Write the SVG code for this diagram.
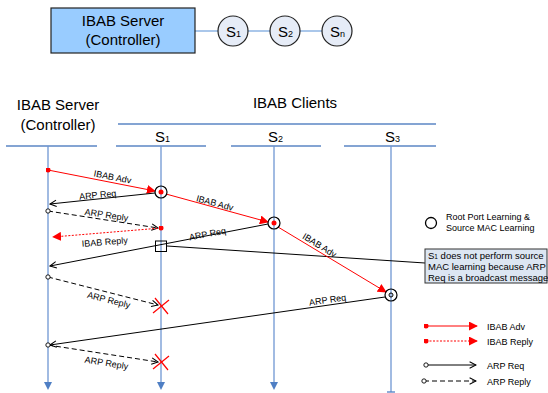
<svg xmlns="http://www.w3.org/2000/svg" width="548" height="393" viewBox="0 0 548 393">
<defs>
<style>
text{font-family:'Liberation Sans',Arial,sans-serif;fill:#000}
.big{font-size:15px}
.lbl{font-size:9px}
.note{font-size:9.5px}
.life{stroke:#6f97d3;stroke-width:1.3;fill:none}
.head{stroke:#5b86c4;stroke-width:1.3}
.adv{stroke:#f00;stroke-width:1;fill:none}
.rep{stroke:#f00;stroke-width:1;stroke-dasharray:2 1.5;fill:none}
.req{stroke:#000;stroke-width:1;fill:none}
.arep{stroke:#000;stroke-width:1;stroke-dasharray:5 3;fill:none}
.x{stroke:#f00;stroke-width:1.2}
</style>
<marker id="ra" viewBox="0 0 10 10" refX="9" refY="5" markerWidth="9" markerHeight="9" markerUnits="userSpaceOnUse" orient="auto"><path d="M0,0 L10,5 L0,10 z" fill="#f00"/></marker>
<marker id="rd" viewBox="0 0 10 10" refX="5" refY="5" markerWidth="5" markerHeight="5" markerUnits="userSpaceOnUse"><circle cx="5" cy="5" r="5" fill="#f00"/></marker>
<marker id="oa" viewBox="0 0 10 10" refX="9" refY="5" markerWidth="8" markerHeight="8" markerUnits="userSpaceOnUse" orient="auto"><path d="M1,1 L9,5 L1,9" fill="none" stroke="#000" stroke-width="1.3"/></marker>
<marker id="od" viewBox="0 0 10 10" refX="5" refY="5" markerWidth="6" markerHeight="6" markerUnits="userSpaceOnUse"><circle cx="5" cy="5" r="3.6" fill="#fff" stroke="#000" stroke-width="1.5"/></marker>
<marker id="ba" viewBox="0 0 10 10" refX="5" refY="5" markerWidth="8" markerHeight="8" markerUnits="userSpaceOnUse" orient="auto"><path d="M0,0 L10,5 L0,10 z" fill="#4f7fc4"/></marker>
</defs>

<g id="top">
<line x1="195" y1="31" x2="337" y2="31" stroke="#8eb4e3" stroke-width="1.3"/>
<rect x="51" y="8" width="144" height="45" fill="#99ccff" stroke="#222" stroke-width="1.2"/>
<text class="big" x="123" y="26" text-anchor="middle">IBAB Server</text>
<text class="big" x="123" y="45" text-anchor="middle">(Controller)</text>
<g id="top-s1"><circle cx="233" cy="31" r="15" fill="#e6ecf7" stroke="#222" stroke-width="1.2"/><text class="big" x="226" y="37">S<tspan font-size="9px">1</tspan></text></g>
<g id="top-s2"><circle cx="285" cy="31" r="15" fill="#e6ecf7" stroke="#222" stroke-width="1.2"/><text class="big" x="278" y="37">S<tspan font-size="9px">2</tspan></text></g>
<g id="top-sn"><circle cx="337" cy="31" r="15" fill="#e6ecf7" stroke="#222" stroke-width="1.2"/><text class="big" x="330" y="37">S<tspan font-size="9px">n</tspan></text></g>
</g>

<g id="headers">
<text class="big" x="58" y="110" text-anchor="middle">IBAB Server</text>
<text class="big" x="58" y="130" text-anchor="middle">(Controller)</text>
<text class="big" x="295" y="108" text-anchor="middle">IBAB Clients</text>
<line class="head" x1="118" y1="124" x2="436" y2="124"/>
<line class="head" x1="6" y1="146" x2="97" y2="146"/>
<line class="head" x1="116" y1="146" x2="206" y2="146"/>
<line class="head" x1="231" y1="146" x2="321" y2="146"/>
<line class="head" x1="344" y1="146" x2="436" y2="146"/>
<text class="big" x="155" y="142">S<tspan font-size="9px">1</tspan></text>
<text class="big" x="268" y="142">S<tspan font-size="9px">2</tspan></text>
<text class="big" x="385" y="142">S<tspan font-size="9px">3</tspan></text>
</g>

<g id="lifelines">
<line class="life" x1="48" y1="146" x2="48" y2="386" marker-end="url(#ba)"/>
<line class="life" x1="161" y1="146" x2="161" y2="386" marker-end="url(#ba)"/>
<line class="life" x1="274" y1="146" x2="274" y2="386" marker-end="url(#ba)"/>
<line class="life" x1="391" y1="146" x2="391" y2="392"/>
<line x1="387" y1="392" x2="395" y2="392" stroke="#4f7fc4" stroke-width="1.3"/>
</g>

<g id="connectors">
<line class="adv" x1="48" y1="170" x2="155" y2="191" marker-start="url(#rd)" marker-end="url(#ra)"/>
<line class="req" x1="155" y1="193" x2="50" y2="204" marker-end="url(#oa)"/>
<line class="arep" x1="48" y1="211" x2="158" y2="228" marker-start="url(#od)" marker-end="url(#oa)"/>
<line class="rep" x1="161" y1="228" x2="53" y2="237" marker-start="url(#rd)" marker-end="url(#ra)"/>
<line class="adv" x1="166" y1="194" x2="268" y2="222" marker-end="url(#ra)"/>
<line class="req" x1="268" y1="224" x2="50" y2="266" marker-end="url(#oa)"/>
<line class="req" x1="167" y1="246" x2="425" y2="263"/>
<line class="adv" x1="278" y1="227" x2="386" y2="292" marker-end="url(#ra)"/>
<line class="arep" x1="48" y1="277" x2="158" y2="305" marker-start="url(#od)" marker-end="url(#oa)"/>
<line class="req" x1="385" y1="297" x2="50" y2="345" marker-end="url(#oa)"/>
<line class="arep" x1="48" y1="345" x2="158" y2="362" marker-start="url(#od)" marker-end="url(#oa)"/>
</g>

<g id="marks">
<g id="learn-s1"><circle cx="161" cy="192" r="6" fill="none" stroke="#000" stroke-width="1.2"/><circle cx="161" cy="192" r="2.5" fill="#f00"/></g>
<g id="learn-s2"><circle cx="274" cy="223" r="6" fill="none" stroke="#000" stroke-width="1.2"/><circle cx="274" cy="223" r="2.5" fill="#f00"/></g>
<g id="learn-s3"><circle cx="391" cy="295" r="6" fill="none" stroke="#000" stroke-width="1.2"/><circle cx="391" cy="295" r="2" fill="none" stroke="#000" stroke-width="1"/></g>
<rect id="s1-nolearn" x="155.5" y="241" width="11" height="10.5" fill="none" stroke="#000" stroke-width="1"/>
<g id="drop1"><line class="x" x1="155" y1="298" x2="168" y2="314"/><line class="x" x1="153" y1="313" x2="169" y2="300"/></g>
<g id="drop2"><line class="x" x1="155" y1="354" x2="168" y2="370"/><line class="x" x1="153" y1="369" x2="169" y2="356"/></g>
</g>

<g id="labels">
<text class="lbl" text-anchor="middle" transform="translate(112,180) rotate(11)">IBAB Adv</text>
<text class="lbl" text-anchor="middle" transform="translate(98,198) rotate(-5.6)">ARP Req</text>
<text class="lbl" text-anchor="middle" transform="translate(106,218) rotate(8.6)">ARP Reply</text>
<text class="lbl" text-anchor="middle" transform="translate(105,245) rotate(-4.6)">IBAB Reply</text>
<text class="lbl" text-anchor="middle" transform="translate(214,206) rotate(15.3)">IBAB Adv</text>
<text class="lbl" text-anchor="middle" transform="translate(208,237) rotate(-10.8)">ARP Req</text>
<text class="lbl" text-anchor="middle" transform="translate(318,248) rotate(31.6)">IBAB Adv</text>
<text class="lbl" text-anchor="middle" transform="translate(108,303) rotate(14.3)">ARP Reply</text>
<text class="lbl" text-anchor="middle" transform="translate(328,303) rotate(-8.1)">ARP Req</text>
<text class="lbl" text-anchor="middle" transform="translate(106,366) rotate(9.3)">ARP Reply</text>
</g>

<g id="note">
<rect x="425" y="249" width="122" height="34" fill="#dce6f2" stroke="#333" stroke-width="1"/>
<text class="note" x="428" y="259">S<tspan font-size="6.5px">1</tspan> does not perform source</text>
<text class="note" x="428" y="270">MAC learning because ARP</text>
<text class="note" x="428" y="281">Req is a broadcast message</text>
</g>

<g id="legend">
<circle cx="431" cy="223" r="5.5" fill="none" stroke="#000" stroke-width="1.3"/>
<text class="lbl" x="446" y="220">Root Port Learning &amp;</text>
<text class="lbl" x="446" y="231">Source MAC Learning</text>
<line class="adv" x1="426" y1="326" x2="477" y2="326" marker-start="url(#rd)" marker-end="url(#ra)"/>
<text class="lbl" x="487" y="330">IBAB Adv</text>
<line class="rep" x1="426" y1="341" x2="477" y2="341" marker-start="url(#rd)" marker-end="url(#ra)"/>
<text class="lbl" x="487" y="345">IBAB Reply</text>
<line class="req" x1="426" y1="365" x2="476" y2="365" marker-start="url(#od)" marker-end="url(#oa)"/>
<text class="lbl" x="487" y="369">ARP Req</text>
<line class="arep" x1="424" y1="381" x2="476" y2="381" marker-start="url(#od)" marker-end="url(#oa)"/>
<text class="lbl" x="487" y="385">ARP Reply</text>
</g>
</svg>
